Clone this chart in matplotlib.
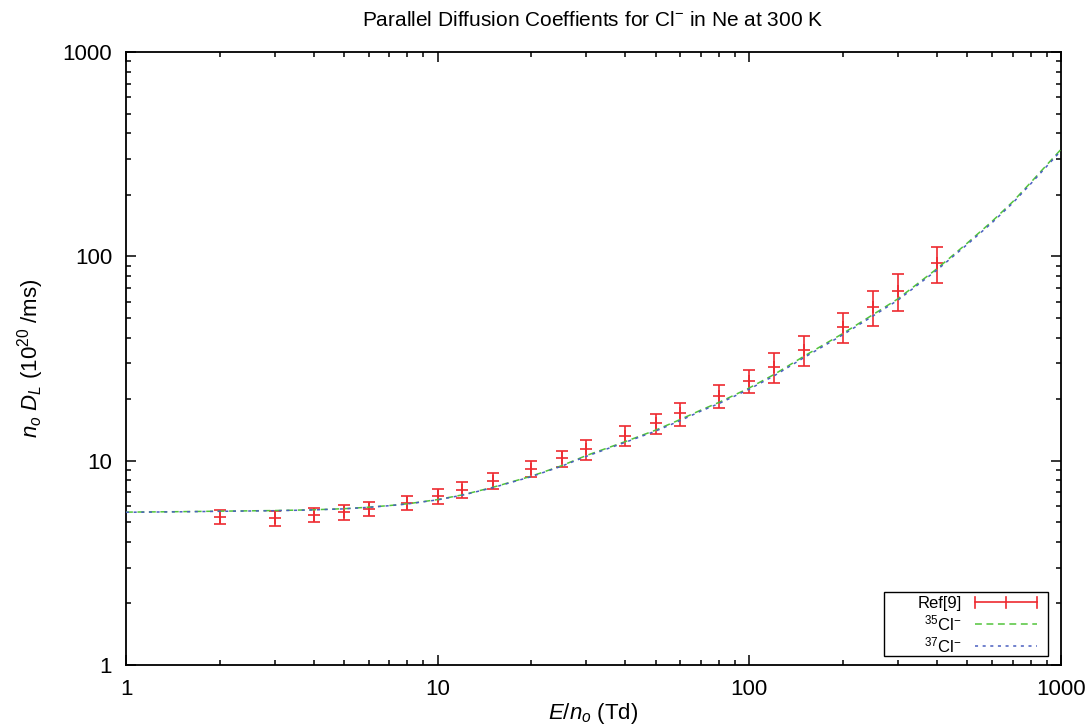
import matplotlib
matplotlib.use("Agg")
import matplotlib.pyplot as plt
from matplotlib.lines import Line2D
from matplotlib.patches import Rectangle
from matplotlib.container import ErrorbarContainer
from matplotlib.ticker import LogLocator, FuncFormatter, NullFormatter

plt.rcParams['font.family'] = ['Liberation Sans', 'DejaVu Sans']
plt.rcParams['mathtext.fontset'] = 'custom'
plt.rcParams['mathtext.rm'] = 'Liberation Sans'
plt.rcParams['mathtext.it'] = 'Liberation Sans:italic'
plt.rcParams['mathtext.bf'] = 'Liberation Sans:bold'

# ---- data ----
ref_x = [2, 3, 4, 5, 6, 8, 10, 12, 15, 20, 25, 30, 40, 50, 60, 80, 100,
         120, 150, 200, 250, 300, 400]
ref_y = [5.30, 5.22, 5.42, 5.59, 5.82, 6.23, 6.69, 7.19, 7.95, 9.14, 10.27,
         11.37, 13.26, 15.24, 17.06, 20.8, 24.6, 28.8, 34.9, 45.3, 56.7,
         67.9, 92.5]
ref_err = [0.42, 0.42, 0.43, 0.45, 0.47, 0.50, 0.54, 0.65, 0.72, 0.82, 0.92,
           1.25, 1.46, 1.68, 2.2, 2.7, 3.2, 4.9, 5.9, 7.7, 11.3, 13.6, 18.5]

curve_x = [1, 1.5, 2, 3, 4, 5, 6, 7, 8, 10, 12, 15, 20, 25, 30, 40, 50, 60,
           70, 80, 100, 120, 150, 200, 250, 300, 400, 500, 600, 700, 800, 1000]
cl35_y = [5.60, 5.63, 5.66, 5.70, 5.75, 5.82, 5.92, 6.03, 6.15, 6.45, 6.80,
          7.40, 8.40, 9.45, 10.6, 12.4, 14.1, 15.9, 17.7, 19.3, 22.7, 26.4,
          32.5, 42.0, 52.0, 62.0, 87.0, 116.0, 148.0, 185.0, 230.0, 334.0]
cl37_y = [5.59, 5.62, 5.65, 5.69, 5.74, 5.81, 5.91, 6.02, 6.14, 6.43, 6.78,
          7.37, 8.36, 9.40, 10.5, 12.3, 13.95, 15.7, 17.5, 19.05, 22.4, 26.0,
          32.0, 41.4, 51.2, 61.1, 85.7, 114.3, 145.8, 182.3, 226.6, 329.0]

tick_vals = [1, 10, 100, 1000]

title = "Parallel Diffusion Coeffients for Cl$^{-}$ in Ne at 300 K"
xlabel = "$E/n_o$ (Td)"
ylabel = "$n_o\\ D_L$ (10$^{20}$ /ms)"
labels = ["Ref[9]", "$^{35}$Cl$^{-}$", "$^{37}$Cl$^{-}$"]

red = '#ee2a30'
green = '#52c43a'
blue = '#4a5fc0'

fig = plt.figure(figsize=(10.87, 7.27), dpi=100)
ax = fig.add_axes([126/1087, 62/727, 935/1087, 613/727])

eb = ax.errorbar(ref_x, ref_y, yerr=ref_err, fmt='+', color=red, ms=8,
                 mew=1.2, elinewidth=1.2, capsize=4, capthick=1.2,
                 label=labels[0], zorder=3)
l35, = ax.plot(curve_x, cl35_y, color=green, lw=1.1, dashes=(4.5, 3),
               label=labels[1], zorder=4)
l37, = ax.plot(curve_x, cl37_y, color=blue, lw=1.1, dashes=(2, 3),
               label=labels[2], zorder=5)

ax.set_xscale('log')
ax.set_yscale('log')
ax.set_xlim(1, 1000)
ax.set_ylim(1, 1000)

fmt = FuncFormatter(lambda v, p: '%g' % v)
for axis in (ax.xaxis, ax.yaxis):
    axis.set_major_locator(LogLocator(base=10, numticks=10))
    axis.set_minor_locator(LogLocator(base=10, subs=range(2, 10), numticks=20))
    axis.set_major_formatter(fmt)
    axis.set_minor_formatter(NullFormatter())
ax.set_xticks(tick_vals)
ax.set_yticks(tick_vals)

ax.tick_params(which='both', direction='in', top=True, right=True,
               width=1.1, labelsize=16, pad=10)
ax.tick_params(which='major', length=7)
ax.tick_params(which='minor', length=3.5)
for s in ax.spines.values():
    s.set_linewidth(1.3)

ax.set_xlabel(xlabel, fontsize=16, va='center')
ax.set_ylabel(ylabel, fontsize=16, va='center')
ax.xaxis.set_label_coords(0.5, (665 - 714) / 613)
ax.yaxis.set_label_coords((31 - 126) / 935, 0.50)

fig.text(593/1087, 1 - 21/727, title, ha='center', va='center', fontsize=15)


class HorizErrHandler:
    def legend_artist(self, legend, orig_handle, fontsize, handlebox):
        x0, y0 = handlebox.xdescent, handlebox.ydescent
        w, h = handlebox.width, handlebox.height
        ym = y0 + h / 2.0
        c = 4.0
        arts = [Line2D([x0, x0 + w], [ym, ym], color=red, lw=1.2)]
        for xx in (x0, x0 + w / 2.0, x0 + w):
            arts.append(Line2D([xx, xx], [ym - c, ym + c], color=red, lw=1.2))
        for a in arts:
            handlebox.add_artist(a)
        return arts[0]


# legend frame (gnuplot style box)
box = Rectangle(((884 - 126) / 935, (665 - 656) / 613),
                (1048 - 884) / 935, (656 - 592) / 613,
                transform=ax.transAxes, facecolor='white', edgecolor='black',
                lw=1.0, zorder=6)
ax.add_patch(box)

leg = ax.legend([eb, l35, l37], labels,
                loc='lower right',
                bbox_to_anchor=((1037 - 126) / 935, (665 - 655) / 613),
                borderaxespad=0, borderpad=0, frameon=False,
                markerfirst=False, fontsize=12,
                handlelength=3.7, labelspacing=0.12, handletextpad=0.8,
                handler_map={ErrorbarContainer: HorizErrHandler()})
leg.set_zorder(7)

fig.savefig('out.png', dpi=100)
